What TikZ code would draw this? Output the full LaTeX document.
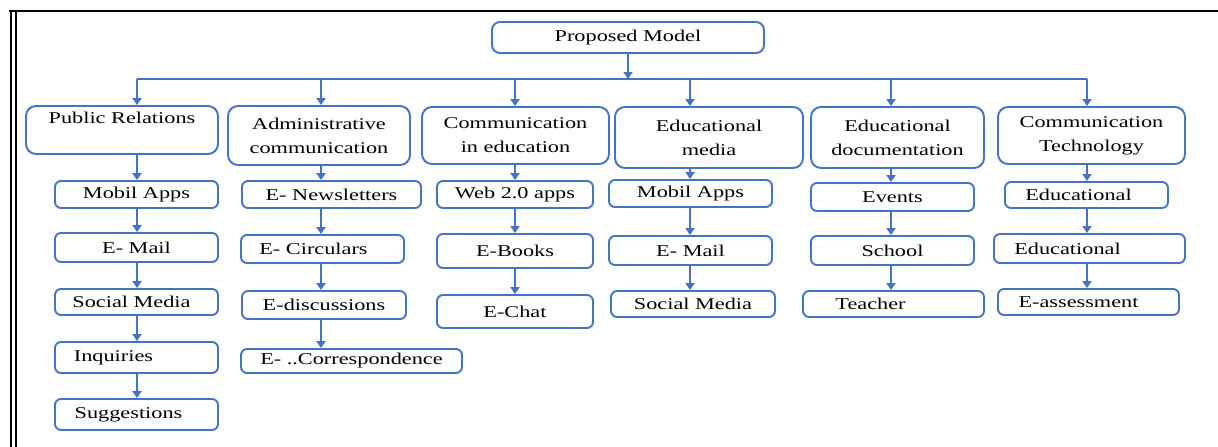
\documentclass[tikz,border=0pt]{standalone}
\usepackage{fontspec}
\setmainfont[FakeStretch=1.35]{Liberation Serif}
\usetikzlibrary{arrows.meta}

\definecolor{modelblue}{RGB}{68,114,196}

\tikzset{
  headbox/.style={draw=modelblue, line width=1.9pt, rounded corners=10pt,
    inner sep=0pt, align=center},
  itembox/.style={draw=modelblue, line width=1.9pt, rounded corners=6pt,
    inner sep=0pt, align=center},
  link/.style={draw=modelblue, line width=1.9pt},
  arr/.style={link, -{Triangle[length=7pt,width=9pt]}}
}

\begin{document}
\begin{tikzpicture}[x=1pt, y=-1pt, font=\fontsize{16.5pt}{24pt}\selectfont]
  \useasboundingbox (0,0) rectangle (1218,447);

  % page frame
  \draw[line width=2pt] (9,10.5) -- (1218,10.5);
  \draw[line width=2pt] (10.5,10) -- (10.5,447);
  \draw[line width=2pt] (15.5,10) -- (15.5,447);

  % top box
  \node[itembox, rounded corners=8pt, minimum width=272, minimum height=31]
    (top) at (628,37.5) {Proposed Model};

  % main branches
  \foreach \nm/\xa/\ya/\xb/\yb/\txt in {
      pr/26/106/218/154/{Public Relations\\\mbox{}},
      adm/228/106/410/165/{Administrative\\communication},
      cie/422/107/609/164/{Communication\\in education},
      edm/615/107/803/168/{Educational\\media},
      edd/811/107/984/168/{Educational\\documentation},
      ct/998/107/1185/164/{Communication\\Technology}} {
    \node[headbox, minimum width=\xb-\xa, minimum height=\yb-\ya]
      (\nm) at ({(\xa+\xb)/2},{(\ya+\yb)/2}) {\txt};
  }

  % items under each branch (last field pushes the text to the left)
  \foreach \nm/\xa/\ya/\xb/\yb/\sh/\txt in {
      pra/55/181/218/208/0/{Mobil Apps},
      prb/55/233/218/262/0/{E- Mail},
      prc/55/289/218/315/10/{Social Media},
      prd/55/342/218/373/46/{Inquiries},
      pre/55/399/218/430/16/{Suggestions},
      adma/242/181/421/208/0/{E- Newsletters},
      admb/241/235/404/263/18/{E- Circulars},
      admc/242/291/406/319/0/{E-discussions},
      admd/241/349/462/373/0/{E- ..Correspondence},
      ciea/437/181/593/208/0/{Web 2.0 apps},
      cieb/437/234/593/268/0/{E-Books},
      ciec/437/295/593/328/0/{E-Chat},
      edma/609/180/772/207/0/{Mobil Apps},
      edmb/609/236/772/265/0/{E- Mail},
      edmc/611/291/775/317/0/{Social Media},
      edda/811/183/974/211/0/{Events},
      eddb/811/236/974/265/0/{School},
      eddc/803/291/984/317/46/{Teacher},
      cta/1005/182/1168/208/16/{Educational},
      ctb/994/234/1185/263/44/{Educational},
      ctc/998/289/1179/315/20/{E-assessment}} {
    \node[itembox, minimum width=\xb-\xa, minimum height=\yb-\ya]
      (\nm) at ({(\xa+\xb)/2},{(\ya+\yb)/2}) {\txt\hspace*{\sh pt}};
  }

  % bus line
  \coordinate (b1) at (137,79);
  \coordinate (b2) at (321,79);
  \coordinate (b3) at (515,79);
  \coordinate (b4) at (690,79);
  \coordinate (b5) at (891,79);
  \coordinate (b6) at (1087,79);
  \draw[link] (b1) -- (b6);
  \draw[arr] (top.south) -- (top.south |- b1);

  \foreach \bus/\hd in {b1/pr, b2/adm, b3/cie, b4/edm, b5/edd, b6/ct}
    \draw[arr] (\bus) -- (\bus |- \hd.north);

  \foreach \bus/\a/\b in {b1/pr/pra, b1/pra/prb, b1/prb/prc, b1/prc/prd, b1/prd/pre,
      b2/adm/adma, b2/adma/admb, b2/admb/admc, b2/admc/admd,
      b3/cie/ciea, b3/ciea/cieb, b3/cieb/ciec,
      b4/edm/edma, b4/edma/edmb, b4/edmb/edmc,
      b5/edd/edda, b5/edda/eddb, b5/eddb/eddc,
      b6/ct/cta, b6/cta/ctb, b6/ctb/ctc}
    \draw[arr] (\bus |- \a.south) -- (\bus |- \b.north);
\end{tikzpicture}
\end{document}
